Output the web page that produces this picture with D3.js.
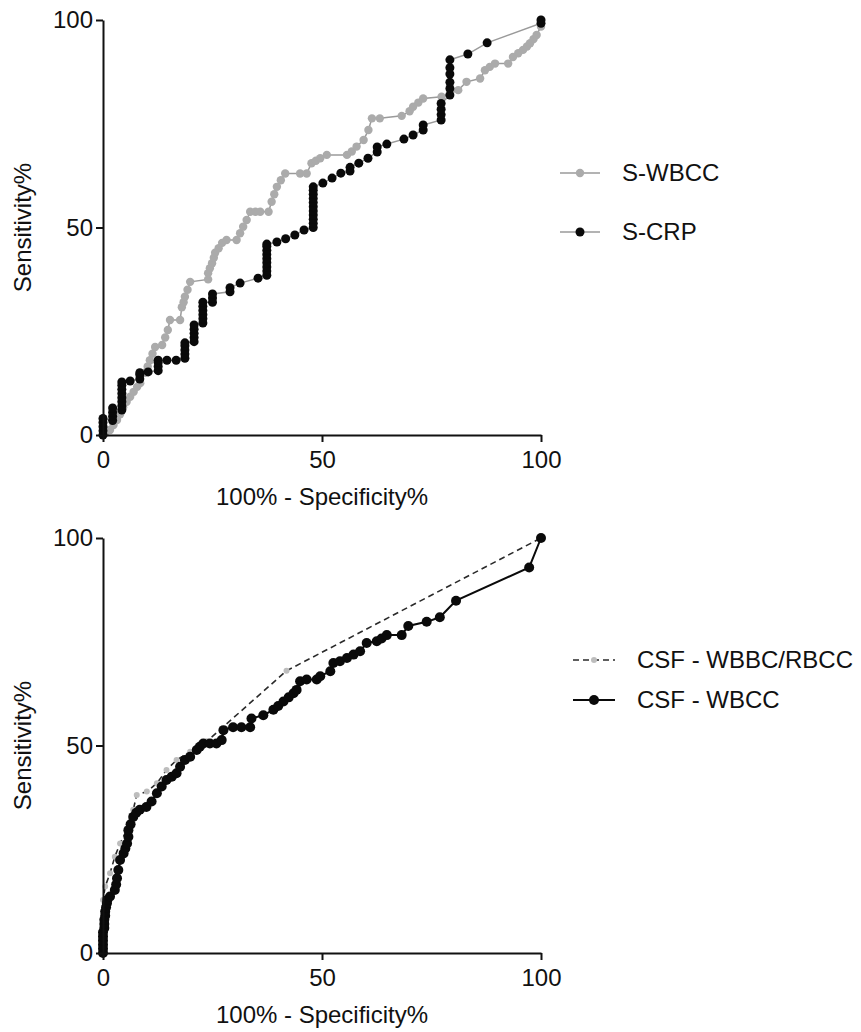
<!DOCTYPE html>
<html>
<head>
<meta charset="utf-8">
<script src="https://cdn.jsdelivr.net/npm/d3@7"></script>
<style>
  body { margin: 0; background: #fff; }
  svg text { font-family: "Liberation Sans", Arial, Helvetica, sans-serif; fill: #111; }
</style>
</head>
<body>
<div id="chart"></div>
<script>
// ROC curves, top: serum markers, bottom: CSF markers
// points are [100% - specificity%, sensitivity%]

var tickValues = [0, 50, 100];
var xTitle = "100% - Specificity%";
var yTitle = "Sensitivity%";

var topNames = ["S-WBCC", "S-CRP"];
var bottomNames = ["CSF - WBBC/RBCC", "CSF - WBCC"];

var sWbcc = [
  [0,0],[0.5,0.5],[1.6,1.2],[2.4,2.4],[3.2,3.6],[3.9,5],[4.6,6.7],[5.4,8],[6.2,9.2],
  [7,10.4],[7.8,11.6],[8.5,12.5],[9.6,15],[10.2,16.5],[10.7,18],[11.3,19.6],[11.9,21.2],
  [13.5,21.7],[14.2,23.5],[14.8,25.3],[15.3,27.7],[17.6,27.7],[18,30.8],[18.4,32],
  [18.7,33.3],[19.3,35],[19.9,36.9],[24,37.5],[24,39],[24.4,40.2],[24.9,41.4],[25.3,42.7],
  [25.6,43.9],[26.4,45],[27.2,46.3],[28.2,47],[30.5,47],[31.3,48.6],[32,50.2],[32.8,51.8],
  [33.6,53.8],[34.8,53.8],[35.9,53.8],[37.8,53.8],[38.5,56.2],[39.1,58],[39.7,59.8],
  [40.6,61.4],[41.6,63],[45,63],[46.5,63],[47.6,65.5],[48.6,66.1],[49.6,66.7],[51.1,67.5],
  [55.7,67.5],[56.8,68.3],[57.9,69.5],[59.5,71.1],[60.6,73.5],[61.4,76.3],[63.2,76.3],
  [68.2,76.9],[70,78],[70.8,79.1],[72,80.1],[73.1,81.1],[77.3,81.5],[79.2,82.3],[81.1,83.1],
  [83,85.1],[86.1,85.9],[87.2,87.9],[88.3,88.7],[89.5,89.5],[92.5,89.5],[93.6,91.1],
  [94.8,92],[95.9,92.8],[96.8,93.6],[97.5,94.4],[98.3,95.4],[99,96.4],[100,98.4],[100,100]
];

var sCrp = [
  [0,0],[0,1],[0,2],[0,3],[0,4],
  [2.2,3.5],[2.2,4.5],[2.2,5.5],[2.2,6.5],
  [4.3,6],[4.3,7],[4.3,8],[4.3,9],[4.3,10],[4.3,11],[4.3,12],[4.3,12.8],
  [6.2,13],[8.4,13.5],[8.4,14.5],[8.4,15],[10.3,15.2],
  [12.6,15.5],[12.6,16.5],[12.6,17.5],[12.6,18],[14.6,18],[16.7,18],
  [18.7,18.5],[18.7,19.5],[18.7,20.5],[18.7,21.5],[18.7,22.2],
  [20.8,22.5],[20.8,23.5],[20.8,24.5],[20.8,25.5],[20.8,26.5],
  [22.8,27],[22.8,28],[22.8,29],[22.8,30],[22.8,31],[22.8,32],
  [25,32],[25,33],[25,34],[29,34.5],[29,35.5],[31.3,36.6],[35.4,37.8],
  [37.4,38.5],[37.4,39.5],[37.4,40.5],[37.4,41.5],[37.4,42.5],[37.4,43.5],[37.4,44.5],
  [37.4,45.5],[37.4,46],[39.7,46.5],[41.7,47.3],[43.8,48.2],[45.9,49.4],
  [48,50],[48,51],[48,52],[48,53],[48,54],[48,55],[48,56],[48,57],[48,58],[48,59],[48,59.8],
  [50.2,60.7],[52.3,61.9],[54.3,63.1],[56.4,63.6],[56.4,64.5],[58.4,65.5],[60.5,66.7],
  [62.6,68.2],[62.6,69.4],[64.8,70.1],[68.7,71.3],[70.8,72.3],[73.1,73.5],[73.1,74.7],
  [77.2,75.9],[77.2,77.2],[77.2,78.5],[77.2,79.9],
  [79.2,81.9],[79.2,83.5],[79.2,85],[79.2,87],[79.2,88.5],[79.2,90.4],
  [83.3,91.8],[87.7,94.5],[100,99.2],[100,100]
];

var csfRatio = [
  [0,0],[0,6],[0,12.8],[0.5,16],[1.6,19.2],[2.7,23.2],[3.9,26.4],[5.4,29.6],[6.9,34.5],
  [7.7,38.1],[10,38.9],[12.3,40.9],[14.5,44.1],[16.8,46.5],[19.9,48.5],[23.7,51],
  [41.9,68],[100,100]
];

var csfWbcc = [
  [0,0],[0,1],[0,2],[0,3],[0,4],[0,5],[0.3,6],[0.3,7],[0.3,8],[0.5,9],[0.5,10],[0.7,11],
  [0.9,12],[1,12.8],[1.6,13.6],[2.7,15.2],[3,16.5],[3.2,18],[3.5,20],[3.9,22.4],[4.7,24],
  [5.1,25.2],[5.5,26.4],[5.8,28],[5.8,29.6],[6.3,31],[6.9,32.8],[7.6,33.8],[8.4,34.5],
  [9.9,35.2],[11.1,36.5],[12.3,38.5],[13.4,40.1],[14.5,41.7],[15.7,42.5],[16.8,43.3],
  [17.6,44.9],[18.7,46.5],[19.9,47.3],[21.4,48.9],[22.1,49.7],[22.9,50.5],[24.4,50.5],
  [25.9,50.5],[27.1,51.3],[27.5,53.7],[29.7,54.4],[31.6,54.4],[33.6,54.4],[33.9,56.5],
  [36.6,57.3],[38.9,58.6],[40,59.5],[41.2,60.6],[42.4,61.6],[43.5,62.6],[44.2,63.4],
  [45,65.5],[46.5,65.9],[48.8,65.9],[49.6,66.7],[51.9,67.9],[52.6,69.9],[54.1,70.3],
  [55.7,71.1],[57.2,71.9],[58.7,72.7],[60.2,74.7],[62.5,75.1],[63.6,75.8],[64.8,76.6],
  [68.2,76.6],[69.7,78.8],[73.9,79.8],[76.9,80.9],[80.6,84.9],[97.3,92.9],[100,100]
];

////////////////////////////////////////

var svg = d3.select("#chart").append("svg")
    .attr("width", 861)
    .attr("height", 1032);

var fontSize = 24;

function drawPanel(top, bottom, series, legend) {
    var x = d3.scaleLinear().domain([0, 100]).range([103, 541]);
    var y = d3.scaleLinear().domain([0, 100]).range([bottom, top]);
    var g = svg.append("g");

    // series first, axes on top
    series.forEach(function (s) {
        var line = d3.line().x(function (d) { return x(d[0]); }).y(function (d) { return y(d[1]); });
        g.append("path")
            .datum(s.data)
            .attr("fill", "none")
            .attr("stroke", s.stroke)
            .attr("stroke-width", s.width)
            .attr("stroke-dasharray", s.dash || null)
            .attr("d", line);
        g.selectAll(null)
            .data(s.data)
            .enter().append("circle")
            .attr("cx", function (d) { return x(d[0]); })
            .attr("cy", function (d) { return y(d[1]); })
            .attr("r", s.r)
            .attr("fill", s.fill);
    });

    var xAxis = g.append("g")
        .attr("transform", "translate(0," + bottom + ")")
        .call(d3.axisBottom(x).tickValues(tickValues).tickSize(7).tickSizeOuter(0).tickPadding(9));
    var yAxis = g.append("g")
        .attr("transform", "translate(103,0)")
        .call(d3.axisLeft(y).tickValues(tickValues).tickSize(7).tickSizeOuter(0).tickPadding(3));

    [xAxis, yAxis].forEach(function (a) {
        a.selectAll("path, line").attr("stroke", "#111").attr("stroke-width", 2);
        a.selectAll("text")
            .style("font-size", fontSize + "px")
            .style("font-family", "'Liberation Sans', Arial, sans-serif")
            .attr("fill", "#111");
    });

    g.append("text")
        .attr("x", 322)
        .attr("y", bottom + 70)
        .attr("text-anchor", "middle")
        .style("font-size", fontSize + "px")
        .text(xTitle);

    g.append("text")
        .attr("transform", "translate(31," + ((top + bottom) / 2) + ") rotate(-90)")
        .attr("text-anchor", "middle")
        .style("font-size", fontSize + "px")
        .text(yTitle);

    // legend
    legend.items.forEach(function (it, i) {
        var ly = legend.y[i];
        g.append("line")
            .attr("x1", legend.x0).attr("x2", legend.x1)
            .attr("y1", ly).attr("y2", ly)
            .attr("stroke", it.stroke)
            .attr("stroke-width", it.width)
            .attr("stroke-dasharray", it.dash || null);
        g.append("circle")
            .attr("cx", (legend.x0 + legend.x1) / 2)
            .attr("cy", ly)
            .attr("r", it.r)
            .attr("fill", it.fill);
        g.append("text")
            .attr("x", legend.tx)
            .attr("y", ly + 8)
            .style("font-size", "24px")
            .text(it.name);
    });
}

var grayStyle = { stroke: "#9a9a9a", width: 1.5, r: 4.2, fill: "#ababab" };
var crpStyle = { stroke: "#9a9a9a", width: 1.5, r: 4.5, fill: "#0a0a0a" };
var ratioStyle = { stroke: "#2a2a2a", width: 1.6, r: 3, fill: "#bdbdbd", dash: "6,4" };
var wbccStyle = { stroke: "#0a0a0a", width: 2, r: 5, fill: "#0a0a0a" };

drawPanel(20, 435,
    [Object.assign({ data: sWbcc }, grayStyle), Object.assign({ data: sCrp }, crpStyle)],
    { x0: 560, x1: 600, tx: 622, y: [173, 232],
      items: [Object.assign({ name: topNames[0] }, grayStyle), Object.assign({ name: topNames[1] }, crpStyle)] });

drawPanel(538, 953,
    [Object.assign({ data: csfRatio }, ratioStyle), Object.assign({ data: csfWbcc }, wbccStyle)],
    { x0: 573, x1: 615, tx: 637, y: [660, 700],
      items: [Object.assign({ name: bottomNames[0] }, ratioStyle), Object.assign({ name: bottomNames[1] }, wbccStyle)] });
</script>
</body>
</html>
